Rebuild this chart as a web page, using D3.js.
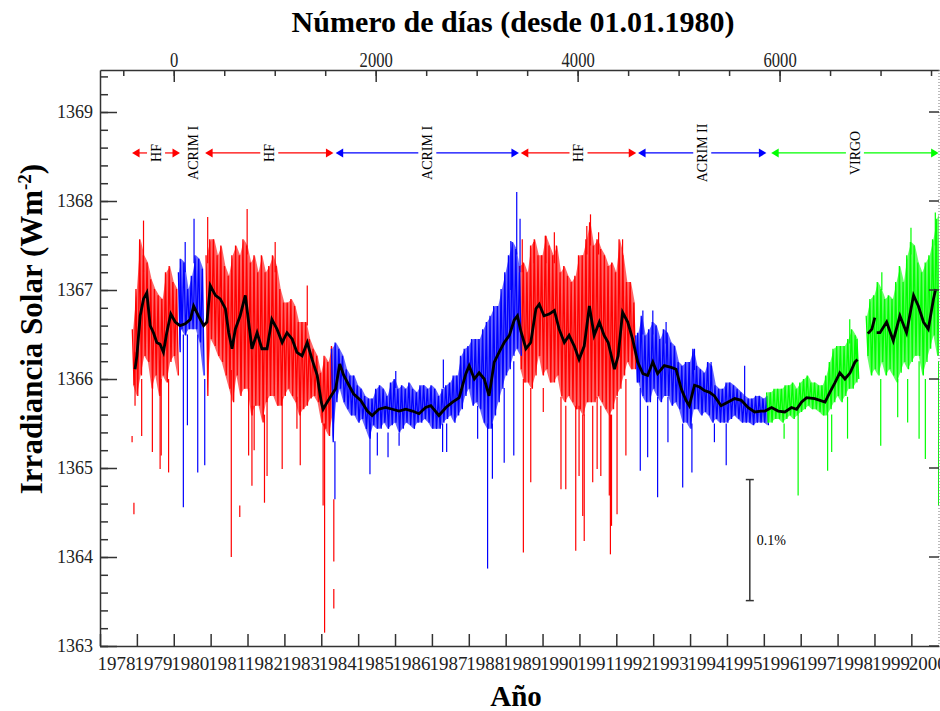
<!DOCTYPE html>
<html>
<head>
<meta charset="utf-8">
<script src="https://cdn.jsdelivr.net/npm/d3@7"></script>
<style>
body { margin:0; background:#fff; }
svg { display:block; }
</style>
</head>
<body>
<svg id="drawing_region"></svg>
<script>
const hf1 = [
  [1978.9,1366.56,1365.93],[1979.0,1367.01,1365.81],[1979.1,1367.57,1366.04],[1979.2,1367.39,1366.26],
  [1979.3,1367.31,1366.19],[1979.4,1367.12,1365.89],[1979.5,1367.01,1366.04],[1979.6,1366.94,1365.81],
  [1979.7,1366.90,1366.04],[1979.8,1367.20,1365.96],[1979.9,1367.27,1366.19],[1980.0,1367.09,1366.26],
  [1980.1,1367.01,1366.04]
];
const acrim1a = [
  [1980.15,1367.20,1366.30],[1980.2,1367.35,1366.56],[1980.3,1367.31,1366.49],[1980.4,1367.01,1366.56],
  [1980.5,1367.16,1366.56],[1980.6,1367.39,1366.56],[1980.7,1367.35,1366.41],[1980.8,1367.24,1366.04]
];
const hf2 = [
  [1980.9,1367.39,1365.81],[1981.0,1367.57,1366.45],[1981.1,1367.57,1366.37],[1981.2,1367.39,1366.26],
  [1981.3,1367.50,1366.19],[1981.4,1367.27,1366.04],[1981.5,1367.16,1365.89],[1981.6,1367.39,1365.74],
  [1981.7,1367.50,1366.04],[1981.8,1367.39,1365.81],[1981.9,1367.57,1365.89],[1982.0,1367.50,1365.89],
  [1982.1,1367.31,1365.59],[1982.2,1367.39,1365.70],[1982.3,1367.20,1365.70],[1982.4,1367.39,1365.51],
  [1982.5,1367.20,1365.74],[1982.6,1367.27,1365.81],[1982.7,1367.39,1365.81],[1982.8,1367.27,1365.70],
  [1982.9,1367.01,1365.70],[1983.0,1366.86,1365.81],[1983.1,1366.86,1365.89],[1983.2,1366.90,1365.81],
  [1983.3,1366.82,1365.74],[1983.4,1366.64,1365.59],[1983.5,1366.64,1365.66],[1983.6,1366.64,1365.70],
  [1983.7,1366.45,1365.78],[1983.8,1366.34,1365.81],[1983.9,1366.26,1365.74],[1984.0,1366.07,1365.51],
  [1984.1,1366.26,1365.44],[1984.2,1366.19,1365.36],[1984.3,1366.37,1365.59]
];
const acrim1b = [
  [1984.3,1366.34,1365.29],[1984.4,1366.41,1365.74],[1984.5,1366.34,1365.89],[1984.6,1366.26,1365.74],
  [1984.7,1366.11,1365.66],[1984.8,1366.04,1365.59],[1984.9,1366.04,1365.59],[1985.0,1365.93,1365.51],
  [1985.1,1365.89,1365.55],[1985.2,1365.81,1365.44],[1985.3,1365.78,1365.33],[1985.4,1365.78,1365.48],
  [1985.5,1365.89,1365.44],[1985.6,1365.93,1365.44],[1985.7,1365.89,1365.51],[1985.8,1365.81,1365.44],
  [1985.9,1365.96,1365.48],[1986.0,1366.00,1365.51],[1986.1,1365.89,1365.40],[1986.2,1365.93,1365.44],
  [1986.3,1365.89,1365.51],[1986.4,1365.96,1365.48],[1986.5,1365.89,1365.44],[1986.6,1365.85,1365.51],
  [1986.7,1365.93,1365.51],[1986.8,1365.93,1365.55],[1986.9,1365.89,1365.51],[1987.0,1365.93,1365.44],
  [1987.1,1365.89,1365.44],[1987.2,1365.81,1365.44],[1987.3,1365.89,1365.51],[1987.4,1365.93,1365.55],
  [1987.5,1365.96,1365.59],[1987.6,1366.04,1365.51],[1987.7,1366.04,1365.59],[1987.8,1366.26,1365.66],
  [1987.9,1366.34,1365.81],[1988.0,1366.37,1365.89],[1988.1,1366.45,1365.70],[1988.2,1366.45,1365.74],
  [1988.3,1366.45,1365.66],[1988.4,1366.56,1365.51],[1988.5,1366.64,1365.44],[1988.6,1366.71,1365.44],
  [1988.7,1366.82,1365.59],[1988.8,1366.82,1365.74],[1988.9,1367.01,1365.89],[1989.0,1367.20,1366.04],
  [1989.1,1367.39,1366.11],[1989.2,1367.54,1366.26],[1989.3,1367.46,1366.34],[1989.4,1367.20,1366.26]
];
const hf3 = [
  [1989.4,1367.27,1366.11],[1989.5,1367.31,1365.96],[1989.6,1367.20,1365.96],[1989.7,1367.50,1365.89],
  [1989.8,1367.57,1366.04],[1989.9,1367.39,1366.26],[1990.0,1367.39,1366.04],[1990.1,1367.61,1366.11],
  [1990.2,1367.50,1365.96],[1990.3,1367.39,1365.96],[1990.4,1367.50,1366.04],[1990.5,1367.20,1365.81],
  [1990.6,1367.27,1365.74],[1990.7,1367.16,1365.81],[1990.8,1367.09,1365.74],[1990.9,1367.16,1365.66],
  [1991.0,1367.39,1365.66],[1991.1,1367.39,1365.59],[1991.2,1367.57,1365.74],[1991.3,1367.76,1365.74],
  [1991.4,1367.50,1365.74],[1991.5,1367.57,1365.81],[1991.6,1367.46,1365.74],[1991.7,1367.39,1365.66],
  [1991.8,1367.27,1365.59],[1991.9,1367.31,1365.66],[1992.0,1367.20,1365.81],[1992.1,1367.57,1365.89],
  [1992.2,1367.39,1366.04],[1992.3,1367.09,1366.19],[1992.4,1367.09,1366.11],[1992.5,1366.86,1366.11]
];
const acrim2 = [
  [1992.55,1366.49,1365.96],[1992.6,1366.52,1365.96],[1992.7,1366.71,1365.81],[1992.8,1366.49,1365.74],
  [1992.9,1366.56,1365.74],[1993.0,1366.64,1365.89],[1993.1,1366.60,1365.81],[1993.2,1366.45,1365.74],
  [1993.3,1366.56,1365.81],[1993.4,1366.52,1365.81],[1993.5,1366.41,1365.70],[1993.6,1366.37,1365.74],
  [1993.7,1366.19,1365.66],[1993.8,1366.15,1365.51],[1993.9,1366.19,1365.51],[1994.0,1366.19,1365.44],
  [1994.1,1366.34,1365.66],[1994.2,1366.15,1365.66],[1994.3,1366.11,1365.59],[1994.4,1366.07,1365.63],
  [1994.5,1366.19,1365.59],[1994.6,1366.15,1365.51],[1994.7,1365.93,1365.55],[1994.8,1365.89,1365.51],
  [1994.9,1365.89,1365.51],[1995.0,1365.96,1365.51],[1995.1,1365.96,1365.55],[1995.2,1365.93,1365.59],
  [1995.3,1365.89,1365.55],[1995.4,1365.85,1365.51],[1995.5,1365.81,1365.51],[1995.6,1365.78,1365.51],
  [1995.7,1365.78,1365.48],[1995.8,1365.81,1365.51],[1995.9,1365.81,1365.51],[1996.0,1365.78,1365.51],
  [1996.1,1365.81,1365.48]
];
const virgo1 = [
  [1996.1,1365.85,1365.51],[1996.2,1365.85,1365.51],[1996.3,1365.89,1365.55],[1996.4,1365.89,1365.55],
  [1996.5,1365.89,1365.51],[1996.6,1365.93,1365.55],[1996.7,1365.93,1365.59],[1996.8,1365.96,1365.55],
  [1996.9,1365.89,1365.59],[1997.0,1365.96,1365.63],[1997.1,1366.00,1365.66],[1997.2,1366.04,1365.70],
  [1997.3,1365.96,1365.66],[1997.4,1365.96,1365.66],[1997.5,1365.93,1365.63],[1997.6,1365.93,1365.59],
  [1997.7,1366.04,1365.59],[1997.8,1366.19,1365.66],[1997.9,1366.34,1365.74],[1998.0,1366.37,1365.81],
  [1998.1,1366.37,1365.74],[1998.2,1366.37,1365.81],[1998.3,1366.45,1365.89],[1998.4,1366.56,1365.89],
  [1998.5,1366.49,1365.96],[1998.55,1366.45,1366.00]
];
const virgo2 = [
  [1998.8,1366.71,1366.26],[1998.9,1366.90,1366.04],[1999.0,1366.94,1366.11],[1999.1,1367.09,1366.04],
  [1999.2,1367.01,1366.19],[1999.3,1366.90,1366.04],[1999.4,1366.94,1366.11],[1999.5,1366.90,1366.04],
  [1999.6,1367.09,1365.96],[1999.7,1367.27,1366.07],[1999.8,1367.09,1366.19],[1999.9,1367.39,1366.11],
  [2000.0,1367.54,1366.19],[2000.1,1367.50,1366.26],[2000.2,1367.31,1366.26],[2000.3,1367.20,1366.04],
  [2000.4,1367.31,1366.19],[2000.5,1367.39,1366.34],[2000.6,1367.57,1366.49],[2000.7,1367.80,1366.26],
  [2000.8,1367.91,1366.26]
];

// isolated daily excursions: [year, top, bottom]
const redSpikes = [
  [1978.87,1365.36,1365.29],[1978.92,1364.61,1364.48],[1978.95,1366.30,1365.70],[1979.13,1366.00,1365.36],
  [1979.18,1367.78,1367.20],[1979.42,1366.00,1365.18],[1979.63,1366.00,1364.99],[1979.66,1366.00,1365.14],
  [1979.86,1366.00,1364.95],[1980.92,1367.82,1367.30],[1981.56,1366.10,1364.00],[1981.79,1364.58,1364.45],
  [1981.99,1367.91,1367.40],[1982.03,1365.90,1365.14],[1982.12,1365.70,1364.80],[1982.18,1365.70,1365.20],
  [1982.46,1365.60,1364.61],[1982.53,1365.80,1364.91],[1982.75,1367.54,1367.20],[1982.94,1365.80,1364.99],
  [1983.34,1365.80,1365.44],[1983.43,1365.70,1365.03],[1983.62,1367.05,1366.60],[1984.05,1365.50,1364.58],
  [1984.09,1365.50,1363.15],[1984.34,1364.65,1363.95],[1984.34,1363.64,1363.42],[1989.45,1367.57,1367.20],
  [1989.48,1366.00,1364.05],[1989.68,1365.90,1364.84],[1989.77,1367.54,1367.30],[1990.02,1365.90,1365.63],
  [1990.09,1367.61,1367.30],[1990.32,1367.65,1367.30],[1990.50,1365.80,1364.76],[1990.63,1365.70,1364.76],
  [1990.90,1365.70,1364.07],[1990.99,1365.70,1364.91],[1991.09,1365.60,1364.46],[1991.13,1365.60,1364.18],
  [1991.20,1367.72,1367.40],[1991.30,1367.85,1367.50],[1991.36,1365.70,1364.84],[1991.48,1365.80,1364.99],
  [1991.52,1367.65,1367.40],[1991.58,1365.70,1364.91],[1991.81,1365.60,1364.69],[1991.84,1365.60,1364.03],
  [1991.87,1365.60,1364.35],[1992.02,1365.80,1364.48],[1992.17,1367.57,1367.20],[1992.26,1366.00,1365.14]
];
const blueSpikes = [
  [1980.26,1366.50,1364.56],[1980.31,1367.54,1367.20],[1980.37,1366.50,1365.48],[1980.55,1367.80,1367.30],
  [1980.65,1366.50,1364.95],[1980.84,1366.00,1365.03],[1984.37,1365.30,1364.65],[1985.32,1365.40,1364.93],
  [1985.52,1365.40,1365.14],[1985.81,1365.40,1365.12],[1986.02,1366.09,1365.90],[1986.11,1365.40,1365.25],
  [1987.29,1365.50,1365.18],[1987.31,1366.22,1365.90],[1987.40,1365.50,1365.18],[1988.24,1365.70,1365.33],
  [1988.51,1365.50,1363.87],[1988.64,1365.50,1364.88],[1988.96,1365.90,1365.06],[1989.14,1367.55,1367.00],
  [1989.22,1366.20,1365.14],[1989.30,1368.10,1367.40],[1989.39,1367.80,1367.20],[1992.65,1365.90,1364.97],
  [1992.72,1366.77,1366.50],[1992.85,1365.70,1365.12],[1992.99,1366.77,1366.50],[1993.12,1365.80,1364.67],
  [1993.35,1366.64,1366.40],[1993.40,1365.80,1365.29],[1993.80,1365.50,1364.78],[1994.05,1365.50,1364.95],
  [1994.12,1366.34,1366.10],[1994.57,1366.19,1366.00],[1994.66,1365.50,1365.29],[1994.98,1365.50,1365.03],
  [1995.48,1366.15,1365.80]
];
const greenSpikes = [
  [1996.55,1365.50,1365.33],[1996.93,1365.60,1364.69],[1997.73,1365.60,1364.97],[1997.84,1365.60,1365.18],
  [1998.27,1365.80,1365.33],[1998.33,1366.67,1366.40],[1999.17,1366.00,1365.25],[1999.20,1367.20,1367.00],
  [1999.63,1366.00,1365.57],[1999.90,1366.00,1365.51],[1999.99,1367.70,1367.40],[2000.21,1366.20,1365.33],
  [2000.38,1366.00,1365.10],[2000.65,1367.87,1367.50],[2000.74,1366.20,1364.58],[2000.78,1367.99,1367.80]
];

// running mean (black), null marks the data gap of 1998
const smooth = [
  [1978.95,1366.11],[1979.0,1366.26],[1979.09,1366.71],[1979.18,1366.90],[1979.27,1366.97],[1979.36,1366.60],
  [1979.45,1366.52],[1979.54,1366.41],[1979.63,1366.39],[1979.72,1366.30],[1979.81,1366.52],[1979.92,1366.73],
  [1980.04,1366.64],[1980.17,1366.60],[1980.31,1366.62],[1980.45,1366.67],[1980.54,1366.82],[1980.67,1366.71],
  [1980.81,1366.60],[1980.9,1366.64],[1980.99,1367.05],[1981.13,1366.94],[1981.26,1366.90],[1981.4,1366.79],
  [1981.49,1366.52],[1981.58,1366.34],[1981.67,1366.56],[1981.8,1366.71],[1981.94,1366.94],[1982.03,1366.64],
  [1982.12,1366.34],[1982.26,1366.52],[1982.39,1366.34],[1982.53,1366.34],[1982.66,1366.67],[1982.8,1366.56],
  [1982.94,1366.41],[1983.07,1366.52],[1983.21,1366.45],[1983.34,1366.30],[1983.48,1366.26],[1983.62,1366.41],
  [1983.75,1366.22],[1983.89,1366.04],[1984.0,1365.74],[1984.05,1365.66],[1984.16,1365.74],[1984.25,1365.80],
  [1984.39,1365.89],[1984.5,1366.17],[1984.61,1366.04],[1984.75,1365.93],[1984.88,1365.83],[1985.07,1365.76],
  [1985.25,1365.64],[1985.38,1365.59],[1985.56,1365.66],[1985.74,1365.68],[1985.93,1365.66],[1986.11,1365.64],
  [1986.29,1365.66],[1986.47,1365.64],[1986.65,1365.61],[1986.83,1365.68],[1986.97,1365.70],[1987.19,1365.59],
  [1987.38,1365.68],[1987.56,1365.74],[1987.74,1365.79],[1987.92,1366.06],[1988.01,1366.15],[1988.15,1366.00],
  [1988.28,1366.07],[1988.42,1366.00],[1988.55,1365.81],[1988.69,1366.19],[1988.82,1366.30],[1988.96,1366.41],
  [1989.1,1366.49],[1989.23,1366.66],[1989.32,1366.71],[1989.41,1366.54],[1989.55,1366.34],[1989.68,1366.41],
  [1989.82,1366.79],[1989.91,1366.84],[1990.04,1366.71],[1990.18,1366.73],[1990.32,1366.77],[1990.45,1366.56],
  [1990.59,1366.41],[1990.72,1366.49],[1990.86,1366.37],[1990.99,1366.22],[1991.13,1366.37],[1991.27,1366.82],
  [1991.4,1366.49],[1991.54,1366.64],[1991.67,1366.49],[1991.78,1366.41],[1991.95,1366.11],[1992.05,1366.26],
  [1992.17,1366.75],[1992.31,1366.64],[1992.44,1366.45],[1992.58,1366.19],[1992.72,1366.06],[1992.85,1366.04],
  [1992.99,1366.19],[1993.12,1366.06],[1993.3,1366.15],[1993.49,1366.13],[1993.62,1366.11],[1993.76,1365.89],
  [1993.89,1365.76],[1993.98,1365.70],[1994.12,1365.93],[1994.26,1365.91],[1994.39,1365.87],[1994.53,1365.85],
  [1994.66,1365.81],[1994.84,1365.70],[1995.02,1365.74],[1995.21,1365.78],[1995.39,1365.76],[1995.57,1365.68],
  [1995.75,1365.63],[1995.93,1365.64],[1996.03,1365.64],[1996.21,1365.68],[1996.39,1365.64],[1996.57,1365.63],
  [1996.75,1365.68],[1996.89,1365.66],[1997.02,1365.74],[1997.16,1365.79],[1997.38,1365.78],[1997.66,1365.74],
  [1997.79,1365.85],[1997.93,1365.96],[1998.06,1366.07],[1998.2,1366.00],[1998.34,1366.07],[1998.47,1366.19],
  [1998.54,1366.22], null,
  [1998.82,1366.51],[1998.93,1366.56],[1999.01,1366.69], null,
  [1999.06,1366.52],[1999.15,1366.52],[1999.33,1366.64],[1999.51,1366.43],[1999.69,1366.71],[1999.87,1366.52],
  [2000.06,1366.94],[2000.19,1366.82],[2000.33,1366.64],[2000.46,1366.56],[2000.6,1366.90],[2000.66,1367.01]
];

// instrument spans shown by the arrows
const spanLabels = ['HF', 'HF', 'ACRIM I', 'HF', 'ACRIM II', 'VIRGO'];
const spanStart  = [1978.87, 1980.85, 1984.39, 1989.41, 1992.59, 1996.20];
const spanEnd    = [1980.17, 1984.33, 1989.36, 1992.54, 1996.07, 2000.74];
const spanColors = ['#ff0000', '#ff0000', '#0000ff', '#ff0000', '#0000ff', '#00ff00'];
const spanLevel  = 1368.54;
const extraLabel = ['ACRIM I', 1980.53];

const yearTicks = d3.range(1978, 2001);
const dayTicks = [0, 2000, 4000, 6000];
const dayMinorTicks = d3.range(-500, 8000, 500);
const irrTicks = [1363, 1364, 1365, 1366, 1367, 1368, 1369];
const irrMinorTicks = d3.range(1363, 1369.45, 0.2);
const scaleBar = [1995.62, 1364.87, 1363.51];   // year, top, bottom (0.1 %)

var config = {
    parent: '#drawing_region',
    width: 940,
    height: 711,
    margin: {top:70, right:1, bottom:65, left:100}
};

const svg = d3.select(config.parent)
    .attr('width', config.width)
    .attr('height', config.height);

const inner_width = config.width - config.margin.left - config.margin.right;
const inner_height = config.height - config.margin.top - config.margin.bottom;

const chart = svg.append('g')
    .attr('transform', `translate(${config.margin.left}, ${config.margin.top})`);

const xscale = d3.scaleLinear().domain([1978, 2000.75]).range([0, inner_width]);
const dayscale = d3.scaleLinear()
    .domain([(1978 - 1980) * 365.25, (2000.75 - 1980) * 365.25])
    .range([0, inner_width]);
const yscale = d3.scaleLinear().domain([1363, 1369.472]).range([inner_height, 0]);

chart.append('clipPath').attr('id', 'clip')
    .append('rect').attr('width', inner_width).attr('height', inner_height);

const plot = chart.append('g').attr('clip-path', 'url(#clip)');

// dense daily band: a fill of the envelope, then a zig-zag between upper and lower values
function drawBand(bins, color) {
    plot.append('path')
        .attr('d', d3.area()
            .x(d => xscale(d[0]))
            .y0(d => yscale(d[2]))
            .y1(d => yscale(d[1]))(bins))
        .attr('fill', color)
        .attr('fill-opacity', 0.6);
    const pts = [];
    bins.forEach(d => {
        const x = xscale(d[0]);
        pts.push([x - 0.9, yscale(d[1])]);
        pts.push([x + 0.9, yscale(d[2])]);
    });
    plot.append('path')
        .attr('d', d3.line()(pts))
        .attr('fill', 'none')
        .attr('stroke', color)
        .attr('stroke-width', 1.3);
}

function drawSpikes(spikes, color) {
    plot.append('g').selectAll('line')
        .data(spikes)
        .join('line')
        .attr('x1', d => xscale(d[0])).attr('x2', d => xscale(d[0]))
        .attr('y1', d => yscale(d[1])).attr('y2', d => yscale(d[2]))
        .attr('stroke', color)
        .attr('stroke-width', 1.2);
}

drawBand(hf1, '#ff0000');
drawBand(hf2, '#ff0000');
drawBand(hf3, '#ff0000');
drawSpikes(redSpikes, '#ff0000');
drawBand(acrim1a, '#0000ff');
drawBand(acrim1b, '#0000ff');
drawBand(acrim2, '#0000ff');
drawSpikes(blueSpikes, '#0000ff');
drawBand(virgo1, '#00ff00');
drawBand(virgo2, '#00ff00');
drawSpikes(greenSpikes, '#00ff00');

plot.append('path')
    .attr('d', d3.line()
        .defined(d => d !== null)
        .x(d => xscale(d[0]))
        .y(d => yscale(d[1]))(smooth))
    .attr('fill', 'none')
    .attr('stroke', '#000')
    .attr('stroke-width', 2.8)
    .attr('stroke-linejoin', 'miter');

// arrows with instrument names
const ann = chart.append('g');
const ay = yscale(spanLevel);
spanLabels.forEach((label, i) => {
    const x0 = xscale(spanStart[i]);
    const x1 = xscale(spanEnd[i]);
    const xm = (x0 + x1) / 2;
    const gap = 9;
    const c = spanColors[i];
    ann.append('line').attr('x1', x0 + 6).attr('x2', xm - gap).attr('y1', ay).attr('y2', ay)
        .attr('stroke', c).attr('stroke-width', 1.2);
    ann.append('line').attr('x1', xm + gap).attr('x2', x1 - 6).attr('y1', ay).attr('y2', ay)
        .attr('stroke', c).attr('stroke-width', 1.2);
    ann.append('path').attr('d', `M${x0},${ay}L${x0 + 7.5},${ay - 4.5}L${x0 + 7.5},${ay + 4.5}Z`).attr('fill', c);
    ann.append('path').attr('d', `M${x1},${ay}L${x1 - 7.5},${ay - 4.5}L${x1 - 7.5},${ay + 4.5}Z`).attr('fill', c);
    ann.append('text')
        .attr('transform', `translate(${xm}, ${ay}) rotate(-90)`)
        .attr('text-anchor', 'middle').attr('dy', '0.35em')
        .attr('font-family', 'Liberation Serif').attr('font-size', '14px')
        .text(label);
});
ann.append('text')
    .attr('transform', `translate(${xscale(extraLabel[1])}, ${ay}) rotate(-90)`)
    .attr('text-anchor', 'middle').attr('dy', '0.35em')
    .attr('font-family', 'Liberation Serif').attr('font-size', '14px')
    .text(extraLabel[0]);

// 0.1 % bar
const bx = xscale(scaleBar[0]);
const bar = chart.append('g').attr('stroke', '#333').attr('stroke-width', 1.5);
bar.append('line').attr('x1', bx).attr('x2', bx).attr('y1', yscale(scaleBar[1])).attr('y2', yscale(scaleBar[2]));
bar.append('line').attr('x1', bx - 4).attr('x2', bx + 4).attr('y1', yscale(scaleBar[1])).attr('y2', yscale(scaleBar[1]));
bar.append('line').attr('x1', bx - 4).attr('x2', bx + 4).attr('y1', yscale(scaleBar[2])).attr('y2', yscale(scaleBar[2]));
chart.append('text')
    .attr('x', bx + 7).attr('y', (yscale(scaleBar[1]) + yscale(scaleBar[2])) / 2 + 5)
    .attr('font-family', 'Liberation Serif').attr('font-size', '14px')
    .text('0.1%');

// axes
function styleAxis(g) {
    g.select('.domain').attr('stroke', '#333').attr('stroke-width', 1.5);
    g.selectAll('.tick line').attr('stroke', '#333').attr('stroke-width', 1.5);
    g.selectAll('text').attr('fill', '#222').attr('font-family', 'Liberation Serif');
}

const xaxis_group = chart.append('g')
    .attr('transform', `translate(0, ${inner_height})`)
    .call(d3.axisBottom(xscale).tickValues(yearTicks).tickFormat(d3.format('d'))
        .tickSizeInner(-12).tickSizeOuter(0).tickPadding(11))
    .call(styleAxis);
xaxis_group.selectAll('text')
    .attr('font-size', '19px')
    .attr('text-anchor', 'start')
    .attr('x', -3);

const top_minor = chart.append('g')
    .call(d3.axisTop(dayscale).tickValues(dayMinorTicks).tickFormat('')
        .tickSizeInner(-6).tickSizeOuter(0))
    .call(styleAxis);
const top_major = chart.append('g')
    .call(d3.axisTop(dayscale).tickValues(dayTicks).tickFormat(d3.format('d'))
        .tickSizeInner(-12).tickSizeOuter(0).tickPadding(3))
    .call(styleAxis);
top_major.select('.domain').remove();
top_major.selectAll('text')
    .attr('font-size', '20px')
    .attr('textLength', d => String(d).length * 8.3)
    .attr('lengthAdjust', 'spacingAndGlyphs');

const y_minor = chart.append('g')
    .call(d3.axisLeft(yscale).tickValues(irrMinorTicks).tickFormat('')
        .tickSizeInner(-8).tickSizeOuter(0))
    .call(styleAxis);
const y_major = chart.append('g')
    .call(d3.axisLeft(yscale).tickValues(irrTicks).tickFormat(d3.format('d'))
        .tickSizeInner(-17).tickSizeOuter(0).tickPadding(7))
    .call(styleAxis);
y_major.select('.domain').remove();
y_major.selectAll('text').attr('font-size', '18px');

// right edge of the frame (cut by the image border)
const right = chart.append('g').attr('transform', `translate(${inner_width}, 0)`);
right.append('line').attr('y1', 0).attr('y2', inner_height)
    .attr('stroke', '#777').attr('stroke-width', 1).attr('stroke-dasharray', '1,2');
right.selectAll('.rt')
    .data(irrTicks)
    .join('line')
    .attr('x1', -10).attr('x2', 0)
    .attr('y1', d => yscale(d)).attr('y2', d => yscale(d))
    .attr('stroke', '#333').attr('stroke-width', 1.5);

// titles
svg.append('text')
    .attr('x', 513).attr('y', 32)
    .attr('text-anchor', 'middle')
    .attr('font-family', 'Liberation Serif').attr('font-weight', 'bold').attr('font-size', '30px')
    .text('Número de días (desde 01.01.1980)');

svg.append('text')
    .attr('x', 516).attr('y', 706)
    .attr('text-anchor', 'middle')
    .attr('font-family', 'Liberation Serif').attr('font-weight', 'bold').attr('font-size', '29px')
    .text('Año');

const ylab = svg.append('text')
    .attr('transform', 'translate(42, 329) rotate(-90)')
    .attr('text-anchor', 'middle')
    .attr('font-family', 'Liberation Serif').attr('font-weight', 'bold').attr('font-size', '31px');
ylab.append('tspan').text('Irradiancia Solar (Wm');
ylab.append('tspan').attr('dy', -11).attr('font-size', '19px').text('-2');
ylab.append('tspan').attr('dy', 11).text(')');
</script>
</body>
</html>
